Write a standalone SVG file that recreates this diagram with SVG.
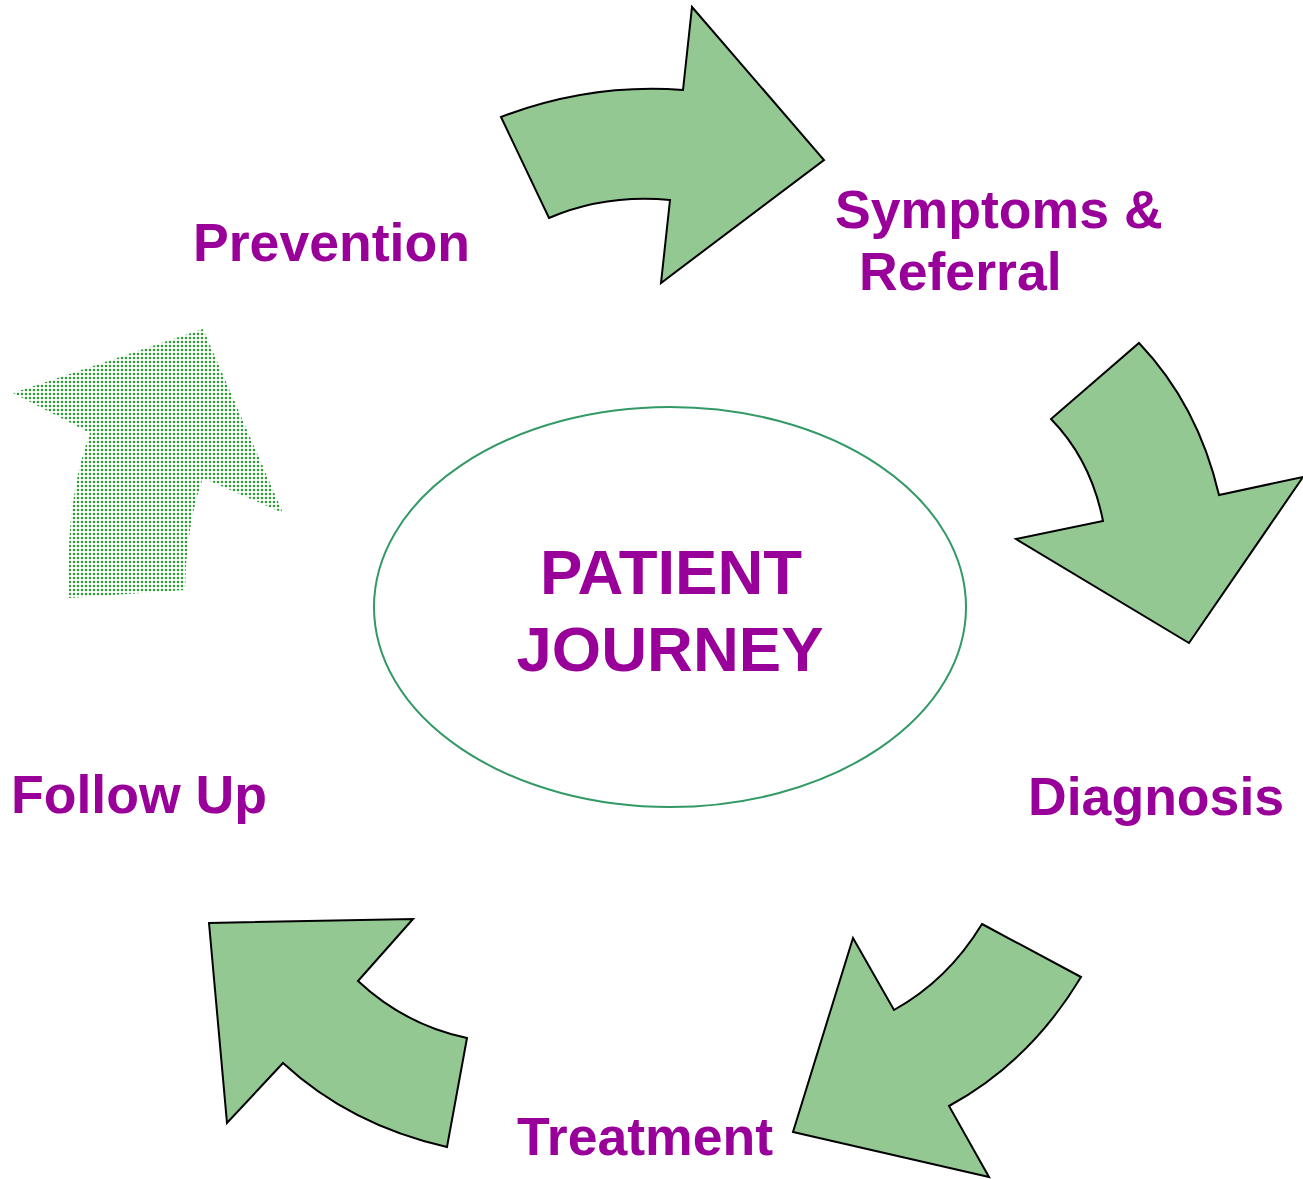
<svg xmlns="http://www.w3.org/2000/svg" width="1303" height="1179" viewBox="0 0 1303 1179">
<style>
.lbl{font-family:"Liberation Sans",Arial,sans-serif;font-weight:bold;fill:#990099;font-size:53.6px}
.big{font-size:63.5px;text-anchor:middle}
.arr{fill:#93c893;stroke:#000;stroke-width:2;stroke-linejoin:miter}
</style>
<defs>
<pattern id="dots" width="4" height="4" patternUnits="userSpaceOnUse">
<rect width="4" height="4" fill="#ffffff"/>
<circle cx="2" cy="2" r="1.3" fill="#2f9a36"/>
</pattern>
</defs>
<rect width="1303" height="1179" fill="#ffffff"/>
<g id="connectors">
<path id="arrow-prevention-symptoms" class="arr" d="M501,117 Q590,83 683,90 L692,7 L824,160 L661,283 L670,200 Q605,194 549,218 Z"/>
<path id="arrow-symptoms-diagnosis" class="arr" d="M1139,343 Q1198,405 1219,495 L1303,477 L1189,643 L1016,539 L1103,521 Q1091,460 1051,419 Z"/>
<path id="arrow-diagnosis-treatment" class="arr" d="M982,924 L1081,977 Q1030,1062 949,1106 L989,1177 L793,1132 L853,938 L894,1010 Q948,980 982,924 Z"/>
<path id="arrow-treatment-followup" class="arr" d="M209,923 L413,919 L358,981 Q405,1025 467,1038 L447,1147 Q350,1125 283,1063 L227,1123 Z"/>
<path id="arrow-followup-prevention" fill="url(#dots)" stroke="none" d="M13,393 L203,329 L283,513 L203,478 Q186,525 185,590 L69,598 Q65,500 90,433 Z"/>
</g>
<g id="center">
<ellipse cx="670" cy="607" rx="296" ry="200" fill="#ffffff" stroke="#339966" stroke-width="2"/>
<text class="lbl big" x="671" y="594">PATIENT</text>
<text class="lbl big" x="670" y="671">JOURNEY</text>
</g>
<g id="prevention"><text class="lbl" x="193" y="261">Prevention</text></g>
<g id="symptoms"><text class="lbl" x="835" y="228">Symptoms &amp;</text><text class="lbl" x="859" y="290">Referral</text></g>
<g id="diagnosis"><text class="lbl" x="1028" y="815">Diagnosis</text></g>
<g id="treatment"><text class="lbl" x="517" y="1155">Treatment</text></g>
<g id="followup"><text class="lbl" x="11" y="813">Follow Up</text></g>
</svg>
